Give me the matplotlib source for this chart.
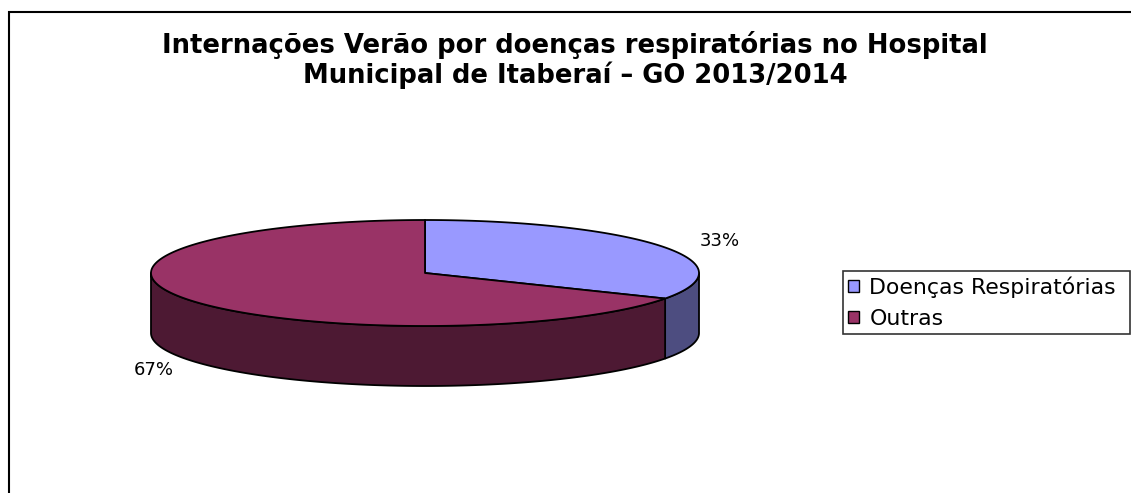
import numpy as np
import matplotlib.pyplot as plt
from matplotlib.patches import Polygon, Patch

categories = ['Doenças Respiratórias', 'Outras']
values = [33, 67]
top_colors = ['#9999FF', '#993366']
side_colors = ['#4D4D80', '#4D1933']

title_lines = ['Internações Verão por doenças respiratórias no Hospital',
               'Municipal de Itaberaí – GO 2013/2014']

W, H = 1131, 493
# pie geometry in pixels
cx, cy = 425, 273
rx, ry = 274, 53
depth = 60


def rim(t0, t1, dy=0, n=200):
    t = np.radians(np.linspace(t0, t1, n))
    return np.column_stack([cx + rx * np.cos(t), cy - ry * np.sin(t) + dy])


fig = plt.figure(figsize=(W / 100, H / 100), dpi=100)
ax = fig.add_axes([0, 0, 1, 1])
ax.set_xlim(0, W)
ax.set_ylim(H, 0)
ax.axis('off')

total = sum(values)
fracs = np.array(values) / total
cum = np.concatenate([[0], np.cumsum(fracs)])
starts = 90 - 360 * cum[:-1]
ends = 90 - 360 * cum[1:]

# side walls (front half only: -180..0)
for i in range(len(values)):
    lo = max(ends[i], -180)
    hi = min(starts[i], 0)
    if lo < hi:
        pts = np.vstack([rim(lo, hi), rim(hi, lo, dy=depth)])
        ax.add_patch(Polygon(pts, closed=True, facecolor=side_colors[i],
                             edgecolor='black', lw=1.3, joinstyle='round'))

# top faces
for i in range(len(values)):
    pts = np.vstack([[cx, cy], rim(starts[i], ends[i])])
    ax.add_patch(Polygon(pts, closed=True, facecolor=top_colors[i],
                         edgecolor='black', lw=1.3, joinstyle='round'))

# percentage labels, along the slice bisector
for i in range(len(values)):
    mid = np.radians((starts[i] + ends[i]) / 2)
    k = 1.2
    x = cx + k * rx * np.cos(mid) + 12
    y = cy - k * ry * np.sin(mid) + (depth + 5 if np.sin(mid) < 0 else 0)
    ax.text(x, y, f'{fracs[i] * 100:.0f}%', ha='center', va='center',
            fontsize=13, family='DejaVu Sans')

# title
ax.text(575, 53, title_lines[0], ha='center', va='baseline',
        fontsize=18.6, fontweight='bold', family='DejaVu Sans')
ax.text(575, 83, title_lines[1], ha='center', va='baseline',
        fontsize=18.6, fontweight='bold', family='DejaVu Sans')

# chart frame (left and top edges visible)
ax.plot([9, 9, W + 5], [H + 5, 12, 12], color='black', lw=1.5,
        solid_joinstyle='miter')

handles = [Patch(facecolor=c, edgecolor='black', lw=1) for c in top_colors]
leg = fig.legend(handles, categories, loc='upper left', mode='expand',
                 bbox_to_anchor=(843 / W, 1 - 332 / H, 287 / W, 61 / H),
                 prop={'family': 'DejaVu Sans', 'size': 15.8},
                 frameon=True, fancybox=False, edgecolor='black',
                 handlelength=0.5, handleheight=0.5, handletextpad=0.45,
                 borderpad=0.25, labelspacing=0.5, borderaxespad=0)
leg.get_frame().set_linewidth(1.2)

fig.savefig('out.png', dpi=100)
